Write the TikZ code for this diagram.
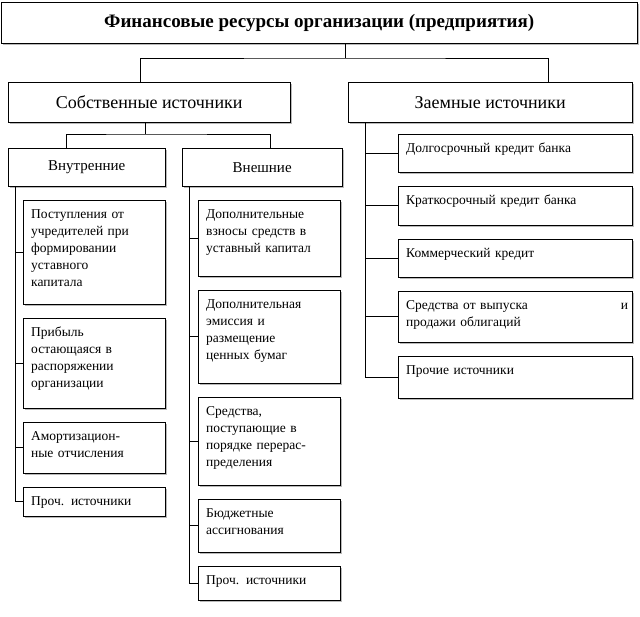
\documentclass[tikz,border=0pt]{standalone}
\usepackage{fontspec}
\setmainfont{Liberation Serif}
\usetikzlibrary{shadows}
\begin{document}
\begin{tikzpicture}[x=1pt,y=-1pt]
  \tikzstyle{box}=[draw, fill=white, inner sep=0pt, anchor=north west,
    drop shadow={shadow xshift=2pt, shadow yshift=-2pt, fill=gray!55, opacity=1}]
  \tikzstyle{txt}=[anchor=north west, inner sep=0pt, align=left, font=\fontsize{13.5}{17}\selectfont]
  \tikzstyle{link}=[draw, line width=0.6pt]
  \newcommand\leaf[6]{%
    \node[box, minimum width=#4, minimum height=#5] (#1) at (#2,#3) {};
    \node[txt, text width=#4-12] at ([xshift=8pt,yshift=-9pt]#1.north west) {#6};}
  \useasboundingbox (0,0) rectangle (640,616);
  % top levels
  \node[box, minimum width=636, minimum height=41, font=\fontsize{19}{22}\selectfont\bfseries] (fin) at (1,2)
    {Финансовые ресурсы организации (предприятия)};
  \node[box, minimum width=282, minimum height=40, font=\fontsize{18}{21}\selectfont] (own) at (8,82)
    {Собственные источники};
  \node[box, minimum width=284, minimum height=40, font=\fontsize{18}{21}\selectfont] (loan) at (348,82)
    {Заемные источники};
  \node[box, minimum width=157, minimum height=38, font=\fontsize{15}{18}\selectfont] (inn) at (8,148)
    {Внутренние};
  \node[box, minimum width=160, minimum height=38, font=\fontsize{15}{18}\selectfont] (out) at (182,148)
    {Внешние};
  % internal
  \leaf{i1}{23}{200}{142}{104}{Поступления от\\ учредителей при\\ формировании\\ уставного\\ капитала}
  \leaf{i2}{23}{318}{142}{90}{Прибыль\\ остающаяся в\\ распоряжении\\ организации}
  \leaf{i3}{23}{422}{142}{51}{Амортизацион-\\ные отчисления}
  \leaf{i4}{23}{487}{142}{29}{Проч. источники}
  % external
  \leaf{e1}{198}{200}{142}{76}{Дополнительные\\ взносы средств в\\ уставный капитал}
  \leaf{e2}{198}{290}{142}{93}{Дополнительная\\ эмиссия и\\ размещение\\ ценных бумаг}
  \leaf{e3}{198}{397}{142}{88}{Средства,\\ поступающие в\\ порядке перерас-\\пределения}
  \leaf{e4}{198}{499}{142}{53}{Бюджетные\\ ассигнования}
  \leaf{e5}{198}{566}{142}{34}{Проч. источники}
  % loans
  \leaf{l1}{398}{134}{234}{38}{Долгосрочный кредит банка}
  \leaf{l2}{398}{186}{234}{39}{Краткосрочный кредит банка}
  \leaf{l3}{398}{239}{234}{38}{Коммерческий кредит}
  \leaf{l4}{398}{291}{234}{51}{Средства от выпуска \hfill и\\ продажи облигаций}
  \leaf{l5}{398}{356}{234}{42}{Прочие источники}
  % connectors
  \coordinate (j1) at (345,58);
  \draw[link] (345,44) -- (j1);
  \draw[link] (140,82) |- (j1) -| (548,82);
  \coordinate (j2) at (145,134);
  \draw[link] (145,122) -- (j2);
  \draw[link] (66,148) |- (j2) -| (270,148);
  \foreach \c in {inn, out}{
    \coordinate (\c s) at ([xshift=7pt]\c.south west);
  }
  \foreach \k in {1,2,3,4} \draw[link] (inns) |- (i\k.west);
  \foreach \k in {1,...,5} \draw[link] (outs) |- (e\k.west);
  \coordinate (loans) at ([xshift=17pt]loan.south west);
  \foreach \k in {1,...,5} \draw[link] (loans) |- (l\k.west);
\end{tikzpicture}
\end{document}
